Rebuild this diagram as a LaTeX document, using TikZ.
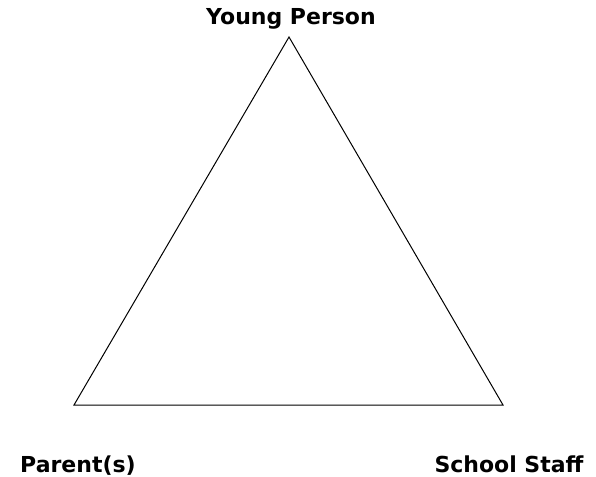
\documentclass[tikz,border=0pt]{standalone}
\usepackage{fontspec}
\setmainfont{DejaVu Sans}
\usepackage{tikz}
\tikzset{
    rolelabel/.style={font=\fontsize{22}{24}\selectfont\bfseries, anchor=base, inner sep=0pt},
    triline/.style={line width=1pt, line join=miter}
}

\begin{document}
\begin{tikzpicture}[x=1pt,y=-1pt]
    \useasboundingbox (0,0) rectangle (596,476);

    \coordinate (top) at (289,37);
    \coordinate (left) at (74,405);
    \coordinate (right) at (503,405);

    \node[rolelabel] (young) at (291,25) {Young Person};
    \node[rolelabel] (parent) at (78,472) {Parent(s)};
    \node[rolelabel] (staff) at (509,472) {School Staff};

    \draw [triline] (top) -- (left) -- (right) -- cycle;
\end{tikzpicture}
\end{document}
